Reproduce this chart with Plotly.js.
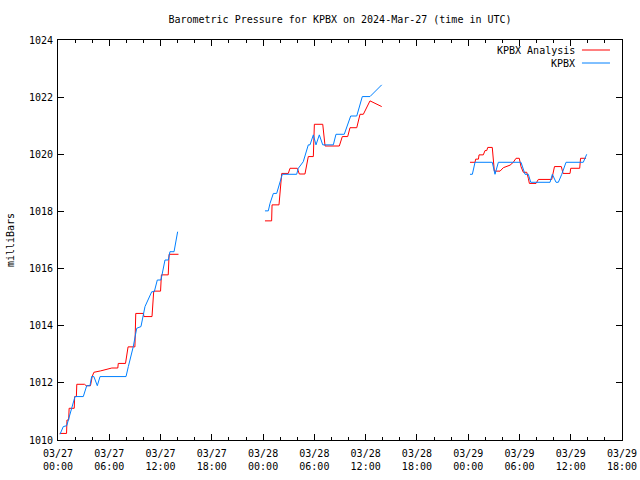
<!DOCTYPE html>
<html>
<head>
<meta charset="utf-8">
<script src="https://cdn.plot.ly/plotly-3.0.1.min.js"></script>
<style>html,body{margin:0;padding:0;background:#fff;}#chart{width:640px;height:480px;}</style>
</head>
<body>
<div id="chart"></div>
<script>
// Hours since 2024-03-27 00:00 UTC; null separates the data segments
const analysisHours = [
  0.2, 1.0, 1.05, 1.25, 1.3, 1.9, 1.95, 2.15, 2.2, 3.1, 3.3, 3.8, 4.0, 4.2, 5.0, 5.5, 6.0, 6.3, 7.0, 7.05, 7.9, 8.0, 8.2, 9.0, 9.1, 10.0, 10.05, 11.0, 11.1, 11.2, 12.0, 12.1, 12.9, 13.0, 14.1,
  null,
  24.22, 25.0, 25.05, 25.86, 26.18, 26.95, 27.15, 28.0, 28.24, 28.9, 29.29, 29.88, 30.0, 30.98, 31.25, 32.92, 33.27, 33.9, 34.17, 34.96, 35.34, 35.73, 36.51, 37.88,
  null,
  48.21, 48.8, 48.88, 49.2, 49.27, 49.77, 49.97, 50.17, 50.29, 50.82, 51.06, 51.73, 52.11, 52.9, 53.28, 53.6, 53.98, 54.18, 54.45, 54.85, 55.04, 55.16, 55.94, 56.21, 57.78, 58.1, 58.9, 59.1, 59.92, 60.0, 61.05, 61.15, 61.79
];
const analysisMb = [
  1010.23, 1010.23, 1010.7, 1010.7, 1011.11, 1011.11, 1011.52, 1011.52, 1011.95, 1011.95, 1011.9, 1011.9, 1012.22, 1012.37, 1012.42, 1012.45, 1012.49, 1012.52, 1012.52, 1012.68, 1012.68, 1012.86, 1013.26, 1013.26, 1014.43, 1014.43, 1014.32, 1014.32, 1014.78, 1015.21, 1015.21, 1015.78, 1015.78, 1016.5, 1016.5,
  null,
  1017.67, 1017.67, 1018.23, 1018.23, 1019.33, 1019.33, 1019.51, 1019.51, 1019.31, 1019.31, 1019.92, 1019.92, 1021.05, 1021.05, 1020.29, 1020.29, 1020.62, 1020.62, 1020.93, 1020.93, 1021.4, 1021.4, 1021.87, 1021.67,
  null,
  1019.72, 1019.72, 1019.83, 1019.83, 1019.98, 1019.98, 1020.13, 1020.13, 1020.24, 1020.24, 1019.41, 1019.41, 1019.53, 1019.62, 1019.72, 1019.86, 1019.86, 1019.57, 1019.37, 1019.37, 1019.16, 1018.98, 1018.98, 1019.12, 1019.12, 1019.57, 1019.57, 1019.33, 1019.33, 1019.51, 1019.51, 1019.86, 1019.86
];
const obsHours = [
  0.23, 0.62, 1.02, 1.99, 2.96, 3.36, 3.74, 3.94, 4.2, 4.6, 4.92, 7.96, 8.23, 8.81, 9.21, 9.71, 10.18, 10.97, 11.27, 11.62, 12.05, 12.52, 12.91, 13.1, 13.58, 14.0,
  null,
  24.22, 24.61, 24.81, 25.2, 25.59, 25.98, 26.25, 27.93, 28.12, 28.7, 28.9, 29.29, 29.49, 29.88, 30.19, 30.58, 30.98, 32.22, 32.53, 33.5, 34.25, 34.96, 35.61, 36.51, 37.88,
  null,
  48.21, 48.49, 48.8, 50.82, 51.14, 51.53, 54.18, 54.65, 55.04, 55.32, 57.58, 57.85, 58.28, 58.55, 58.95, 59.45, 61.47, 61.87
];
const obsMb = [
  1010.2, 1010.47, 1010.5, 1011.52, 1011.52, 1011.9, 1011.9, 1012.22, 1012.22, 1011.9, 1012.22, 1012.22, 1012.57, 1013.27, 1013.91, 1013.97, 1014.67, 1015.19, 1015.19, 1015.6, 1015.6, 1016.3, 1016.3, 1016.59, 1016.59, 1017.29,
  null,
  1018.02, 1018.02, 1018.28, 1018.63, 1018.63, 1019.04, 1019.3, 1019.3, 1019.51, 1019.74, 1019.92, 1020.33, 1020.33, 1020.68, 1020.33, 1020.68, 1020.33, 1020.33, 1020.7, 1020.7, 1021.34, 1021.34, 1022.02, 1022.02, 1022.43,
  null,
  1019.3, 1019.3, 1019.72, 1019.72, 1019.3, 1019.72, 1019.72, 1019.3, 1019.3, 1019.02, 1019.02, 1019.3, 1019.02, 1019.02, 1019.3, 1019.72, 1019.72, 1020.0
];
const seriesNames = ['KPBX Analysis', 'KPBX'];
const seriesColors = ['#ff0000', '#0080ff'];
const titleText = 'Barometric Pressure for KPBX on 2024-Mar-27 (time in UTC)';
const yTitle = 'milliBars';

const START = Date.UTC(2024, 2, 27, 0, 0, 0);
function toDate(h) {
  if (h === null) return null;
  const d = new Date(START + h * 3600000);
  const p = n => String(n).padStart(2, '0');
  return d.getUTCFullYear() + '-' + p(d.getUTCMonth() + 1) + '-' + p(d.getUTCDate()) + ' ' +
    p(d.getUTCHours()) + ':' + p(d.getUTCMinutes()) + ':' + p(d.getUTCSeconds());
}

const font = {family: 'DejaVu Sans Mono, monospace', size: 10, color: '#000'};

const traces = [
  {x: analysisHours.map(toDate), y: analysisMb, name: seriesNames[0], type: 'scatter', mode: 'lines',
   line: {color: seriesColors[0], width: 1}, connectgaps: false, hoverinfo: 'skip'},
  {x: obsHours.map(toDate), y: obsMb, name: seriesNames[1], type: 'scatter', mode: 'lines',
   line: {color: seriesColors[1], width: 1}, connectgaps: false, hoverinfo: 'skip'}
];

// legend in gnuplot style (text right, sample line on the right)
const legendY = [0.975, 0.9425];
const annotations = seriesNames.map((n, i) => ({
  xref: 'paper', yref: 'paper', x: 0.9205, y: legendY[i], xanchor: 'right', yanchor: 'middle',
  text: n, showarrow: false, font: font
}));
const shapes = seriesNames.map((n, i) => ({
  type: 'line', xref: 'paper', yref: 'paper', x0: 0.929, x1: 0.9787, y0: legendY[i], y1: legendY[i],
  line: {color: seriesColors[i], width: 1}
}));

const layout = {
  width: 640, height: 480,
  margin: {l: 58, r: 18, t: 40, b: 40, pad: 0},
  paper_bgcolor: '#fff', plot_bgcolor: '#fff',
  showlegend: false,
  font: font,
  title: {text: titleText, font: font, x: 0.5, xref: 'paper', xanchor: 'center', y: 1 - 19/480, yref: 'container', yanchor: 'middle'},
  xaxis: {
    type: 'date',
    range: [toDate(0), toDate(66)],
    tick0: toDate(0), dtick: 6 * 3600000,
    tickformat: '%m/%d<br>%H:%M',
    ticks: 'inside', ticklen: 6, tickcolor: '#000', tickwidth: 1,
    ticklabelstandoff: 4,
    minor: {dtick: 2 * 3600000, ticks: 'inside', ticklen: 3, tickcolor: '#000', showgrid: false},
    showline: true, linecolor: '#000', linewidth: 1, mirror: 'ticks',
    showgrid: false, zeroline: false, tickfont: font, fixedrange: true
  },
  yaxis: {
    range: [1010, 1024], dtick: 2, tick0: 1010,
    ticks: 'inside', ticklen: 6, tickcolor: '#000', tickwidth: 1,
    ticklabelstandoff: 2,
    showline: true, linecolor: '#000', linewidth: 1, mirror: 'ticks',
    showgrid: false, zeroline: false, tickfont: font,
    title: {text: yTitle, font: font, standoff: 12}, fixedrange: true
  },
  annotations: annotations,
  shapes: shapes
};

Plotly.newPlot('chart', traces, layout, {staticPlot: true, displayModeBar: false});
</script>
</body>
</html>
